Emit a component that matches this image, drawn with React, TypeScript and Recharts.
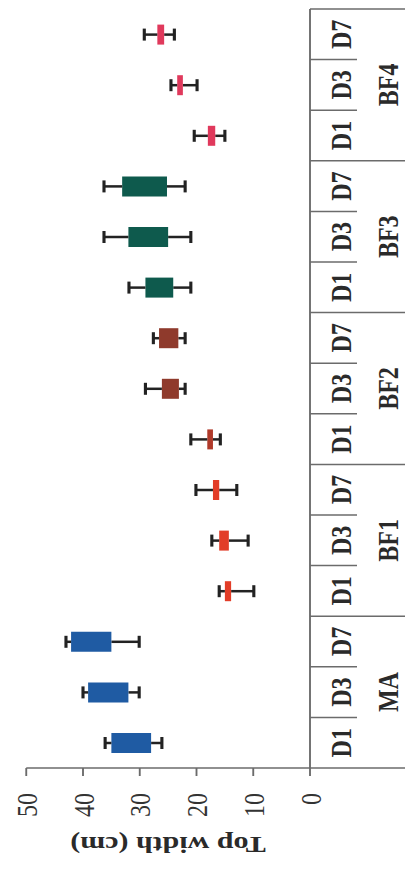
import React from 'react';
import { BarChart, Bar, XAxis, YAxis, Cell } from 'recharts';

const groups = ['MA', 'BF1', 'BF2', 'BF3', 'BF4'];
const days = ['D1', 'D3', 'D7'];

const whiskerMin = [26.1, 30.1, 30.1, 9.9, 10.9, 12.9, 15.8, 22.0, 22.0, 21.0, 21.0, 22.0, 15.0, 19.9, 23.9];
const boxLow = [28.0, 32.0, 35.0, 13.9, 14.3, 16.0, 17.1, 23.1, 23.2, 24.1, 25.0, 25.2, 16.7, 22.4, 25.7];
const boxHigh = [35.0, 39.1, 42.1, 15.0, 16.0, 17.1, 18.1, 26.1, 26.6, 29.0, 32.0, 33.1, 18.0, 23.4, 26.9];
const whiskerMax = [36.1, 40.0, 43.0, 16.0, 17.3, 20.1, 21.0, 29.0, 27.6, 31.9, 36.3, 36.3, 20.4, 24.5, 29.2];

const boxColors = [
    '#1f5ba3', '#1f5ba3', '#1f5ba3',
    '#e23d28', '#e23d28', '#e23d28',
    '#b03a2a', '#8f3a2c', '#8f3a2c',
    '#0e5a4d', '#0e5a4d', '#0e5a4d',
    '#e0395c', '#e0395c', '#e0395c',
];

const valueTicks = [0, 10, 20, 30, 40, 50];

const data = whiskerMin.map((min, i) => ({
    key: `${groups[Math.floor(i / 3)]}-${days[i % 3]}`,
    base: min,
    lowW: boxLow[i] - min,
    box: boxHigh[i] - boxLow[i],
    highW: whiskerMax[i] - boxHigh[i],
}));

// chart is drawn "upright" then rotated and stretched like the scanned figure
const W = 871;
const K = 1.25;
const H = 333;
const PLOT_LEFT = 103;
const PLOT_RIGHT = 862;
const AXIS_Y = 248;
const BAND = (PLOT_RIGHT - PLOT_LEFT) / data.length;
const FONT = '"Liberation Serif", "Times New Roman", serif';
const LINE = '#6b6b6b';

const CategoryTick = ({ x, payload }: any) => {
    const i = payload.index;
    const left = x - BAND / 2;
    return (
        <g>
            <line x1={left} y1={AXIS_Y} x2={left} y2={i % 3 === 0 ? 324 : 285.6} stroke={LINE} strokeWidth={1.5} />
            {i === data.length - 1 && (
                <line x1={x + BAND / 2} y1={AXIS_Y} x2={x + BAND / 2} y2={324} stroke={LINE} strokeWidth={1.5} />
            )}
            <text x={x} y={272.8} textAnchor="middle" dominantBaseline="central" fontFamily={FONT} fontWeight="bold" fontSize={24} fill="#2a2a2a">
                {days[i % 3]}
            </text>
            {i % 3 === 1 && (
                <text x={x} y={310.4} textAnchor="middle" dominantBaseline="central" fontFamily={FONT} fontWeight="bold" fontSize={24} fill="#2a2a2a">
                    {groups[Math.floor(i / 3)]}
                </text>
            )}
        </g>
    );
};

const TitleLabel = () => (
    <text x={34} y={134.4} transform="rotate(-90, 34, 134.4)" textAnchor="middle" fontFamily={FONT} fontWeight="bold" fontSize={24} fill="#2a2a2a">
        Top width (cm)
    </text>
);

const LowWhisker = ({ x, y, width, height }: any) => {
    const cx = x + width / 2;
    return (
        <g>
            <line x1={cx} y1={y} x2={cx} y2={y + height} stroke="#222" strokeWidth={2.5} />
            <line x1={cx - 6} y1={y + height} x2={cx + 6} y2={y + height} stroke="#222" strokeWidth={2.5} />
        </g>
    );
};

const HighWhisker = ({ x, y, width, height }: any) => {
    const cx = x + width / 2;
    return (
        <g>
            <line x1={cx} y1={y} x2={cx} y2={y + height} stroke="#222" strokeWidth={2.5} />
            <line x1={cx - 6} y1={y} x2={cx + 6} y2={y} stroke="#222" strokeWidth={2.5} />
        </g>
    );
};

export default function App() {
    return (
        <div style={{ position: 'absolute', left: 0, top: 0, width: 416, height: 871, overflow: 'hidden', background: '#fff' }}>
            <div
                style={{
                    width: W,
                    height: H,
                    transformOrigin: '0 0',
                    transform: `translate(0px, ${W}px) rotate(-90deg) scale(1, ${K})`,
                }}
            >
                <BarChart width={W} height={H} data={data} margin={{ top: 21, right: W - PLOT_RIGHT, bottom: 0, left: 0 }} barSize={20}>
                    <XAxis
                        dataKey="key"
                        height={H - AXIS_Y}
                        tickLine={false}
                        axisLine={{ stroke: LINE, strokeWidth: 1.5 }}
                        tick={<CategoryTick />}
                        interval={0}
                    />
                    <YAxis
                        width={PLOT_LEFT}
                        domain={[0, 50]}
                        ticks={valueTicks}
                        tickSize={8}
                        tickMargin={17}
                        axisLine={{ stroke: LINE, strokeWidth: 1.5 }}
                        tickLine={{ stroke: LINE, strokeWidth: 1.5 }}
                        tick={{ fontFamily: FONT, fontSize: 24, fill: '#333' }}
                        label={<TitleLabel />}
                    />
                    <Bar dataKey="base" stackId="a" fill="none" isAnimationActive={false} />
                    <Bar dataKey="lowW" stackId="a" shape={<LowWhisker />} isAnimationActive={false} />
                    <Bar dataKey="box" stackId="a" isAnimationActive={false}>
                        {data.map((_, i) => (
                            <Cell key={`box-${i}`} fill={boxColors[i]} />
                        ))}
                    </Bar>
                    <Bar dataKey="highW" stackId="a" shape={<HighWhisker />} isAnimationActive={false} />
                </BarChart>
            </div>
        </div>
    );
}
